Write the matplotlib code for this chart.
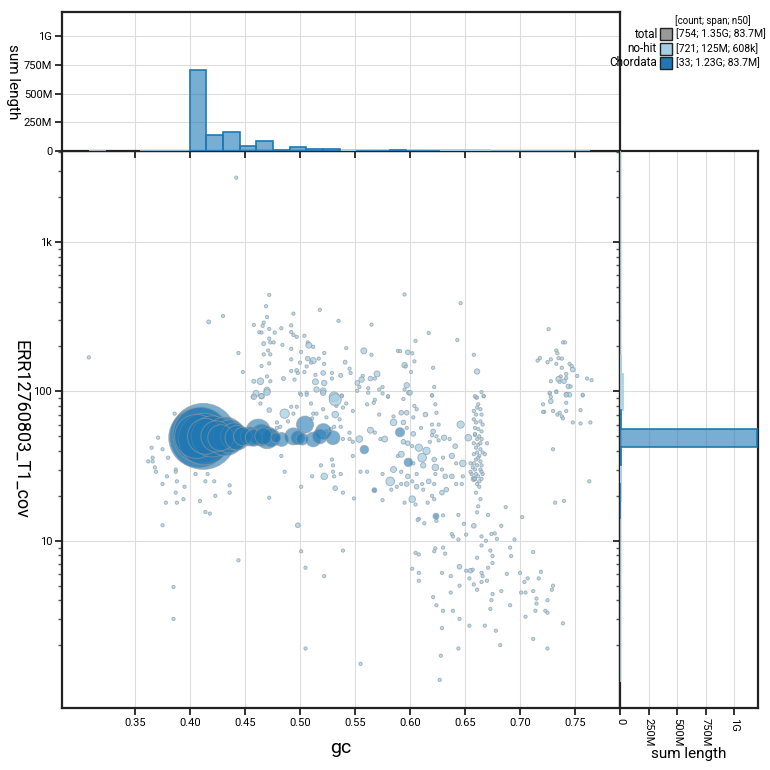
import numpy as np
import matplotlib.pyplot as plt
from matplotlib.colors import to_rgba
from matplotlib.patches import Rectangle
from matplotlib.ticker import FixedLocator, FuncFormatter, NullFormatter

plt.rcParams["font.family"] = ["Roboto", "DejaVu Sans"]

# ---- data (gc, coverage, length in Mb) ----
chordata = [
    (0.412, 50, 180), (0.408, 49, 150), (0.410, 51, 130), (0.413, 48, 110),
    (0.406, 50, 80), (0.414, 50, 53),
    (0.420, 50, 70), (0.424, 50, 40), (0.428, 49, 28),
    (0.432, 50, 62), (0.436, 50, 45), (0.440, 50, 30), (0.443, 49, 25),
    (0.448, 50, 14), (0.4545, 50, 15), (0.458, 49, 12),
    (0.462, 54, 25), (0.4667, 50, 12), (0.470, 49, 20), (0.4735, 49, 14), (0.465, 51, 20),
    (0.4833, 47.7, 8), (0.478, 49, 4),
    (0.494, 50, 12), (0.5045, 60, 12), (0.498, 49, 8), (0.502, 48, 6),
    (0.512, 47.7, 9), (0.518, 50, 9),
    (0.5212, 54, 10), (0.530, 49, 8),
    (0.5585, 40.8, 3), (0.5676, 21.8, 1), (0.5909, 53.3, 3.5),
    (0.5985, 33.5, 3), (0.6236, 14.6, 1.5),
]

nohit_left = [
    (0.308, 169, 0.45), (0.386, 71, 0.45), (0.371, 49, 0.45), (0.365, 42, 0.45),
    (0.375, 41, 0.45), (0.366, 36, 0.45), (0.362, 34, 0.45), (0.366, 34, 0.45),
    (0.380, 36, 0.45), (0.368, 31, 0.45), (0.369, 29, 0.45), (0.387, 30, 0.45),
    (0.387, 29, 0.45), (0.379, 27, 0.45), (0.388, 25, 0.45), (0.375, 24, 0.45),
    (0.395, 23, 0.45), (0.387, 21, 0.45), (0.378, 18, 0.45), (0.388, 18, 0.45),
    (0.394, 19, 0.45), (0.409, 18.5, 0.45), (0.405, 28, 0.45), (0.416, 28, 0.45),
    (0.414, 25, 0.45), (0.422, 25, 0.45), (0.423, 20, 0.45), (0.436, 23.5, 0.45),
    (0.436, 21, 0.45), (0.414, 15.6, 0.45), (0.418, 15.2, 0.45), (0.375, 12.7, 0.45),
    (0.385, 4.9, 0.45), (0.385, 3.0, 0.45), (0.444, 7.4, 0.45), (0.472, 19.4, 0.45),
    (0.483, 37, 0.45), (0.486, 29, 0.45), (0.501, 23, 0.45), (0.498, 12.7, 0.9),
    (0.501, 8.5, 0.45), (0.505, 6.6, 0.45), (0.522, 5.8, 0.45), (0.505, 1.9, 0.45),
    (0.539, 8.6, 0.45), (0.555, 1.5, 0.45),
]

nohit_upper = [
    (0.442, 2700, 0.45), (0.417, 292, 0.65), (0.430, 320, 0.45), (0.444, 181, 0.45),
    (0.448, 135, 0.45), (0.472, 443, 0.45), (0.469, 372, 0.45), (0.470, 315, 0.45),
    (0.458, 279, 0.45), (0.467, 289, 0.45), (0.466, 275, 0.45), (0.472, 262, 0.45),
    (0.463, 249, 0.45), (0.465, 248, 0.45), (0.477, 248, 0.45), (0.483, 265, 0.45),
    (0.472, 226, 0.45), (0.473, 213, 0.45), (0.476, 213, 0.45), (0.467, 209, 0.65),
    (0.484, 205, 0.45), (0.471, 188, 0.45), (0.473, 177, 0.45), (0.467, 177, 0.45),
    (0.472, 154, 0.45), (0.465, 148, 0.45), (0.470, 126, 0.45), (0.458, 117, 0.65),
    (0.464, 117, 1.8), (0.473, 117, 0.45), (0.485, 122, 0.65), (0.460, 97, 1.5),
    (0.470, 102, 1.5), (0.465, 93, 1.2), (0.457, 92, 0.45), (0.494, 332, 0.45),
    (0.492, 277, 0.45), (0.492, 250, 0.45), (0.494, 239, 0.45), (0.497, 232, 0.45),
    (0.492, 193, 0.45), (0.501, 184, 0.45), (0.504, 236, 0.45), (0.507, 213, 0.45),
    (0.508, 204, 1.5), (0.512, 199, 0.45), (0.518, 352, 0.45), (0.492, 164, 0.45),
    (0.500, 156, 0.45), (0.507, 166, 0.9), (0.512, 161, 1.5), (0.510, 156, 0.45),
    (0.517, 166, 0.45), (0.506, 147, 0.45), (0.504, 135, 0.45), (0.497, 138, 0.65),
    (0.498, 133, 0.45), (0.492, 137, 0.45), (0.495, 120, 0.45), (0.514, 129, 0.45),
    (0.522, 153, 0.45), (0.522, 181, 0.45), (0.514, 116, 1.5), (0.521, 133, 0.9),
    (0.522, 114, 1.2), (0.529, 133, 0.45), (0.529, 122, 0.45), (0.537, 128, 0.65),
    (0.535, 297, 0.45), (0.542, 195, 0.45), (0.541, 157, 0.65), (0.545, 142, 0.45),
    (0.546, 133, 0.45), (0.558, 187, 1.5), (0.565, 176, 0.45), (0.565, 280, 0.45),
    (0.570, 131, 1.5), (0.564, 122, 0.9), (0.557, 127, 0.45), (0.556, 120, 1.2),
    (0.552, 114, 0.9), (0.554, 107, 0.45), (0.562, 105, 0.45), (0.568, 122, 0.45),
    (0.572, 103, 0.45), (0.575, 107, 0.45), (0.580, 92, 0.45), (0.589, 187, 0.45),
    (0.500, 97, 0.45), (0.506, 98, 0.45), (0.515, 103, 1.2), (0.521, 101, 1.5),
    (0.531, 92, 4.1), (0.538, 94, 0.45),
    (0.595, 446, 0.45), (0.646, 390, 0.45), (0.617, 246, 0.45), (0.605, 218, 0.45),
    (0.643, 221, 0.45), (0.591, 186, 0.45), (0.598, 183, 0.9), (0.602, 180, 0.45),
    (0.604, 159, 0.45), (0.595, 150, 1.2), (0.596, 147, 0.45), (0.621, 144, 0.45),
    (0.601, 135, 0.45), (0.658, 176, 0.45), (0.661, 136, 1.2), (0.597, 110, 1.2),
    (0.595, 103, 0.45), (0.599, 98, 0.9), (0.622, 107, 0.45), (0.620, 94, 0.45),
    (0.665, 99, 0.45), (0.667, 93, 0.45), (0.660, 91, 0.45),
]

nohit_mid = [
    (0.511, 27, 0.45), (0.519, 32, 0.45), (0.530, 32, 0.45), (0.529, 35, 0.45),
    (0.530, 29, 0.45), (0.522, 27, 1.8), (0.531, 27, 0.45), (0.532, 22.5, 0.9),
    (0.539, 21, 0.45), (0.537, 28, 0.45), (0.549, 19.2, 0.45), (0.548, 37, 0.45),
    (0.555, 29, 0.45), (0.561, 29, 0.45), (0.575, 18.7, 0.45), (0.575, 28, 0.45),
    (0.585, 30, 1.5), (0.582, 25, 3.1), (0.583, 22, 0.45), (0.588, 23, 0.45),
    (0.589, 37, 0.45), (0.554, 48, 1.8), (0.564, 55, 1.5), (0.568, 53, 0.45),
    (0.573, 48, 0.45), (0.577, 48, 1.5), (0.585, 62, 1.8), (0.585, 68, 0.45),
    (0.572, 70, 0.45), (0.561, 82, 0.45), (0.567, 84, 0.45), (0.568, 88, 0.45),
    (0.575, 97, 0.45), (0.580, 93, 0.45), (0.548, 74, 0.45), (0.539, 78, 0.45),
    (0.536, 65, 0.45), (0.537, 58, 0.45), (0.531, 58, 0.45), (0.528, 56, 0.45),
    (0.524, 54, 0.45), (0.512, 71, 0.45), (0.515, 71, 0.45), (0.511, 66, 0.45),
    (0.524, 67, 0.45), (0.521, 76, 0.45), (0.532, 70, 1.8), (0.533, 80, 0.45),
    (0.532, 88, 6.0), (0.538, 93, 0.45), (0.542, 83, 0.45), (0.521, 98, 1.2),
    (0.506, 95, 0.45), (0.510, 83, 0.45), (0.501, 95, 0.45), (0.497, 79, 0.45),
    (0.492, 79, 0.45), (0.494, 71, 0.45), (0.486, 71, 3.6), (0.472, 75, 0.9),
    (0.464, 83, 0.45), (0.458, 92, 1.2), (0.465, 93, 1.2), (0.470, 99, 1.8),
    (0.479, 62, 0.45), (0.479, 57, 0.45), (0.482, 58, 0.45), (0.489, 63, 0.45),
    (0.545, 53, 0.45), (0.548, 46, 0.45), (0.545, 48, 0.45), (0.539, 48, 0.45),
    (0.552, 101, 0.45), (0.562, 98, 0.45),
    (0.600, 98, 0.9), (0.620, 94, 0.45), (0.594, 89, 0.45), (0.592, 72, 0.9),
    (0.597, 72, 0.9), (0.604, 80, 0.45), (0.606, 76, 0.45), (0.623, 82, 0.45),
    (0.624, 72, 0.45), (0.614, 70, 0.9), (0.603, 67, 0.45), (0.594, 62, 0.9),
    (0.620, 60, 0.45), (0.626, 60, 0.45), (0.646, 60, 2.2), (0.597, 57, 0.45),
    (0.610, 57, 0.45), (0.603, 52, 0.9), (0.621, 54, 0.9), (0.620, 51, 0.45),
    (0.624, 50, 0.45), (0.631, 49, 1.2), (0.636, 48, 0.45), (0.626, 47, 0.45),
    (0.618, 46, 0.45), (0.594, 46, 0.9), (0.598, 45, 0.9), (0.641, 43, 0.9),
    (0.608, 42, 2.2), (0.615, 40, 2.2), (0.602, 43, 0.45), (0.592, 38, 1.5),
    (0.611, 36, 3.1), (0.622, 35, 0.9), (0.630, 36, 0.45), (0.638, 37, 1.2),
    (0.603, 33, 0.45), (0.612, 32, 1.2), (0.623, 31, 1.8), (0.629, 30, 0.45),
    (0.648, 33, 1.8), (0.642, 33, 0.45), (0.592, 29, 0.45), (0.598, 27, 0.9),
    (0.606, 28, 0.45), (0.623, 28, 0.45), (0.632, 27, 0.9), (0.638, 27, 0.9),
    (0.648, 27, 0.45), (0.617, 25, 0.9), (0.602, 25, 0.45), (0.611, 24, 0.45),
    (0.622, 24, 0.45), (0.642, 24, 0.45), (0.647, 24, 0.45), (0.592, 24, 0.45),
    (0.597, 24, 0.9), (0.606, 23, 0.9), (0.633, 22, 0.9), (0.612, 22, 0.45),
    (0.620, 20, 0.45), (0.629, 21, 0.9), (0.602, 19, 1.8), (0.595, 18, 0.45),
    (0.616, 18, 0.45), (0.605, 17.5, 0.45), (0.622, 19, 0.45),
]

nohit_column = [
    (0.659, 93), (0.661, 91), (0.667, 93), (0.662, 82), (0.658, 74), (0.664, 76),
    (0.660, 70), (0.665, 70), (0.658, 65), (0.664, 63), (0.660, 62), (0.666, 60),
    (0.659, 57), (0.662, 56), (0.665, 54), (0.659, 51), (0.663, 50), (0.661, 48),
    (0.665, 48), (0.658, 45), (0.662, 44), (0.670, 45), (0.660, 42), (0.664, 41),
    (0.661, 39), (0.666, 39), (0.658, 38), (0.663, 37), (0.668, 38), (0.660, 35),
    (0.664, 34), (0.658, 33), (0.665, 32), (0.661, 32), (0.657, 31), (0.664, 30),
    (0.660, 28), (0.656, 28), (0.662, 27), (0.658, 26), (0.665, 26), (0.661, 24),
    (0.663, 23), (0.660, 21), (0.664, 19), (0.662, 17), (0.661, 15.5), (0.666, 28),
    (0.659, 26), (0.663, 25), (0.655, 29), (0.655, 33), (0.661, 78), (0.659, 52),
    (0.664, 45), (0.662, 36), (0.659, 30), (0.665, 29),
]
column_big = [(0.653, 49, 1.8), (0.658, 26, 1.2)]

nohit_right = [
    (0.726, 261, 0.45), (0.739, 213, 0.45), (0.741, 213, 0.45), (0.733, 188, 0.45),
    (0.734, 180, 0.45), (0.718, 167, 0.45), (0.716, 161, 0.45), (0.725, 157, 0.45),
    (0.728, 164, 0.45), (0.735, 167, 0.45), (0.738, 166, 0.45), (0.733, 153, 0.45),
    (0.738, 144, 0.45), (0.745, 153, 0.45), (0.747, 148, 0.45), (0.748, 140, 0.9),
    (0.752, 127, 0.45), (0.761, 122, 0.45), (0.765, 119, 0.45), (0.737, 126, 0.45),
    (0.742, 131, 0.45), (0.735, 121, 1.2), (0.740, 117, 0.9), (0.736, 116, 0.45),
    (0.742, 123, 0.45), (0.728, 117, 0.45), (0.744, 108, 0.9), (0.746, 108, 0.45),
    (0.733, 100, 0.45), (0.727, 97, 0.45), (0.728, 92, 0.45), (0.742, 96, 0.45),
    (0.745, 95, 0.9), (0.757, 94, 0.45), (0.727, 98, 0.45), (0.733, 99, 0.45),
    (0.742, 95, 0.9), (0.757, 95, 0.45), (0.728, 86, 0.9), (0.721, 82, 0.45),
    (0.722, 73, 0.45), (0.721, 73, 0.45), (0.730, 74, 0.45), (0.734, 70, 0.45),
    (0.736, 72, 0.45), (0.742, 84, 0.45), (0.742, 74, 0.45), (0.738, 68, 0.45),
    (0.739, 66, 0.45), (0.755, 75, 0.45), (0.748, 62, 0.45), (0.755, 61, 0.45),
    (0.764, 62, 0.45), (0.730, 41, 0.45), (0.763, 25, 0.45), (0.732, 18, 0.45),
    (0.740, 18.5, 0.45),
]

nohit_low = [
    (0.608, 14, 0.45), (0.607, 13.8, 0.45), (0.613, 13.1, 0.45), (0.624, 13.6, 0.45),
    (0.630, 14.8, 0.45), (0.644, 14.9, 0.45), (0.638, 11.1, 0.45), (0.639, 10.7, 0.45),
    (0.644, 10.2, 0.45), (0.649, 13.0, 0.45), (0.651, 11.0, 0.45), (0.658, 12.6, 0.9),
    (0.671, 14.9, 0.45), (0.665, 10.7, 0.45), (0.669, 10, 0.45), (0.674, 11.1, 0.45),
    (0.677, 11.2, 0.45), (0.679, 10.3, 0.45), (0.683, 12.6, 0.45), (0.687, 16.8, 0.45),
    (0.695, 10.2, 0.45), (0.702, 14.4, 0.45),
    (0.605, 8.3, 0.45), (0.608, 8.1, 0.45), (0.622, 8.5, 0.45), (0.623, 8.9, 0.45),
    (0.630, 9.0, 0.45), (0.632, 8.2, 0.45), (0.602, 6.5, 0.45), (0.608, 6.1, 0.45),
    (0.608, 5.4, 0.45), (0.629, 6.1, 0.45), (0.637, 5.8, 0.45), (0.645, 6.7, 0.9),
    (0.645, 5.0, 0.45), (0.651, 6.3, 0.45), (0.655, 6.3, 0.9), (0.657, 6.4, 0.45),
    (0.661, 7.7, 0.45), (0.665, 9.3, 0.45), (0.673, 8.6, 0.45), (0.675, 7.9, 0.45),
    (0.675, 7.1, 0.45), (0.671, 6.6, 0.45), (0.670, 5.4, 0.45), (0.666, 5.8, 0.45),
    (0.665, 6.1, 0.45), (0.665, 5.3, 0.45), (0.661, 4.7, 0.45), (0.658, 5.1, 0.45),
    (0.654, 5.6, 0.45), (0.674, 4.0, 0.45), (0.675, 4.4, 0.45), (0.673, 3.5, 0.45),
    (0.683, 4.6, 0.45), (0.691, 3.7, 0.45), (0.688, 6.0, 0.45), (0.691, 9.0, 0.45),
    (0.692, 7.9, 0.45), (0.712, 8.4, 0.45), (0.700, 6.1, 0.45), (0.707, 5.6, 0.45),
    (0.704, 5.3, 0.45), (0.701, 4.5, 0.45), (0.705, 4.5, 0.45), (0.712, 4.6, 0.45),
    (0.717, 5.6, 0.45), (0.719, 6.2, 0.45), (0.715, 4.1, 0.45), (0.715, 3.8, 0.45),
    (0.714, 3.4, 0.45), (0.705, 3.1, 0.45), (0.725, 4.0, 0.45), (0.730, 5.0, 0.45),
    (0.729, 4.7, 0.45), (0.723, 3.4, 0.45), (0.725, 3.3, 0.45), (0.739, 2.8, 0.45),
    (0.712, 2.2, 0.45), (0.725, 1.9, 0.45), (0.682, 2.0, 0.45), (0.678, 2.5, 0.45),
    (0.668, 2.7, 0.45), (0.654, 2.7, 0.45), (0.645, 3.0, 0.45), (0.639, 3.4, 0.45),
    (0.630, 3.4, 0.45), (0.629, 2.6, 0.45), (0.624, 3.7, 0.45), (0.621, 4.2, 0.45),
    (0.637, 4.5, 0.45), (0.644, 1.9, 0.45), (0.628, 1.7, 0.45), (0.627, 1.17, 0.45),
]

# histogram bins (30 bins over data range) and summed lengths (Mb)
gc_bin_range = (0.3086, 0.7635)
gc_hist_chordata = [0, 0, 0, 0, 0, 0, 703, 138, 162, 41, 91, 12, 38, 18, 18,
                    0, 4, 2, 5, 4, 2, 0, 0, 0, 0, 0, 0, 0, 0, 0]
gc_hist_nohit = [0.3, 0, 0, 0.8, 1.5, 2, 3, 2.5, 3.5, 6, 8, 7, 7, 6, 8,
                 6, 7, 6, 8, 9, 8, 5, 5, 9, 3, 2, 2, 2, 3, 2]
cov_bin_range = (1.14, 4875)
cov_hist_chordata = [0, 0, 0, 0, 0, 0, 0, 0, 0, 1.5, 1, 0, 6.5, 1205, 12,
                     0, 0, 0, 0, 0, 0, 0, 0, 0, 0, 0, 0, 0, 0, 0]
cov_hist_nohit = [0.3, 0.5, 0.5, 1, 1, 1.5, 2, 2.5, 3, 4, 6, 7, 8, 10, 12,
                  24, 22, 6, 4, 3, 2, 1.5, 1, 1, 0.5, 0.3, 0.3, 0.2, 0.2, 0.2]

legend_rows = [("total", "#999999", "[754; 1.35G; 83.7M]"),
               ("no-hit", "#a6cee3", "[721; 125M; 608k]"),
               ("Chordata", "#1f78b4", "[33; 1.23G; 83.7M]")]

gc_ticks = [0.35, 0.40, 0.45, 0.50, 0.55, 0.60, 0.65, 0.70, 0.75]
cov_ticks = [10, 100, 1000]
len_ticks = [0, 250e6, 500e6, 750e6, 1e9]

# ---- figure ----
W = 770
fig = plt.figure(figsize=(7.7, 7.7), dpi=100)
x0, x1 = 62 / W, 620 / W
xr = 758 / W
ybot, ymid, ytop = 1 - 708 / W, 1 - 151 / W, 1 - 12 / W

ax = fig.add_axes([x0, ybot, x1 - x0, ymid - ybot])
axt = fig.add_axes([x0, ymid, x1 - x0, ytop - ymid], sharex=ax)
axr = fig.add_axes([x1, ybot, xr - x1, ymid - ybot], sharey=ax)

xlim = (0.2836, 0.7909)
ylim = (0.759, 4074)
hmax = 1.21e9
minor_cov = [m * d for d in (1, 10, 100, 1000) for m in range(2, 10) if m * d < 4074]


def size_pts(length_mb):
    r = 33 * np.sqrt(np.asarray(length_mb) / 180.0)
    return (2 * r * 0.72) ** 2


def len_fmt(v, pos=None):
    if v == 0:
        return "0"
    if v >= 1e9:
        return f"{v / 1e9:g}G"
    return f"{v / 1e6:g}M"


def cov_fmt(v, pos=None):
    return {10: "10", 100: "100", 1000: "1k"}.get(int(round(v)), "")


nohit = nohit_left + nohit_upper + nohit_mid + nohit_right + nohit_low + column_big
nohit += [(g, c, 0.45) for g, c in nohit_column]
nh = np.array(nohit)
ax.scatter(nh[:, 0], nh[:, 1], s=size_pts(nh[:, 2]), facecolor="#a6cee3",
           edgecolor="#8a9aa5", linewidth=0.6, alpha=0.75, zorder=3)

ch = np.array(sorted(chordata, key=lambda t: -t[2]))
ax.scatter(ch[:, 0], ch[:, 1], s=size_pts(ch[:, 2]), facecolor="#1f78b4",
           edgecolor="#9a9a9a", linewidth=0.7, alpha=0.6, zorder=4)

ax.set_yscale("log")
ax.set_xlim(*xlim)
ax.set_ylim(*ylim)
ax.xaxis.set_major_locator(FixedLocator(gc_ticks))
ax.xaxis.set_major_formatter(FuncFormatter(lambda v, p: f"{v:.2f}"))
ax.yaxis.set_major_locator(FixedLocator(cov_ticks))
ax.yaxis.set_major_formatter(FuncFormatter(cov_fmt))
ax.yaxis.set_minor_locator(FixedLocator(minor_cov))
ax.yaxis.set_minor_formatter(NullFormatter())
ax.grid(True, which="major", color="#dddddd", linewidth=0.8, zorder=0)
ax.set_axisbelow(True)
ax.set_xlabel("gc", fontsize=14, labelpad=8)
ax.set_ylabel("ERR12760803_T1_cov", fontsize=13, rotation=270, labelpad=16)


def hist_bars(a, edges, vals, col, horizontal=False):
    vals = np.array(vals) * 1e6
    keep = vals > 0
    lo, width = edges[:-1][keep], np.diff(edges)[keep]
    style = dict(facecolor=to_rgba(col, 0.6), edgecolor=col, linewidth=1.2, zorder=3)
    if horizontal:
        a.barh(lo, vals[keep], height=width, align="edge", **style)
    else:
        a.bar(lo, vals[keep], width=width, align="edge", **style)


# top histogram
gc_edges = np.linspace(gc_bin_range[0], gc_bin_range[1], len(gc_hist_chordata) + 1)
hist_bars(axt, gc_edges, gc_hist_nohit, "#a6cee3")
hist_bars(axt, gc_edges, gc_hist_chordata, "#1f78b4")
axt.set_ylim(0, hmax)
axt.yaxis.set_major_locator(FixedLocator(len_ticks))
axt.yaxis.set_major_formatter(FuncFormatter(len_fmt))
axt.tick_params(axis="x", labelbottom=False)
axt.grid(True, color="#dddddd", linewidth=0.8, zorder=0)
axt.set_axisbelow(True)
axt.set_ylabel("sum length", fontsize=11, rotation=270, labelpad=13)

# right histogram
cov_edges = np.geomspace(cov_bin_range[0], cov_bin_range[1], len(cov_hist_chordata) + 1)
hist_bars(axr, cov_edges, cov_hist_nohit, "#a6cee3", horizontal=True)
hist_bars(axr, cov_edges, cov_hist_chordata, "#1f78b4", horizontal=True)
axr.set_xlim(0, hmax)
axr.xaxis.set_major_locator(FixedLocator(len_ticks))
axr.xaxis.set_major_formatter(FuncFormatter(len_fmt))
axr.tick_params(axis="y", labelleft=False, which="both")
axr.tick_params(axis="x", labelrotation=270, pad=2)
axr.grid(True, which="major", color="#dddddd", linewidth=0.8, zorder=0)
axr.set_axisbelow(True)
axr.set_xlabel("sum length", fontsize=11, labelpad=1)

for a in (ax, axt, axr):
    for sp in a.spines.values():
        sp.set_linewidth(1.6)
        sp.set_color("#222222")
    a.tick_params(which="major", length=5, width=1.3, labelsize=8, color="#222222", pad=2)
    a.tick_params(which="minor", length=3, width=1.0, color="#555555")

# legend
fig.text(675 / W, 1 - 21 / W, "[count; span; n50]", fontsize=7, va="center", ha="left")
for i, (name, col, info) in enumerate(legend_rows):
    yc = 1 - (34 + 14.5 * i) / W
    fig.text(657 / W, yc, name, fontsize=8.5, ha="right", va="center")
    fig.add_artist(Rectangle((660 / W, yc - 6 / W), 12 / W, 12 / W, transform=fig.transFigure,
                             facecolor=col, edgecolor="#222222", linewidth=1.0))
    fig.text(676 / W, yc, info, fontsize=7.5, ha="left", va="center")

fig.savefig("out.png", dpi=100)
